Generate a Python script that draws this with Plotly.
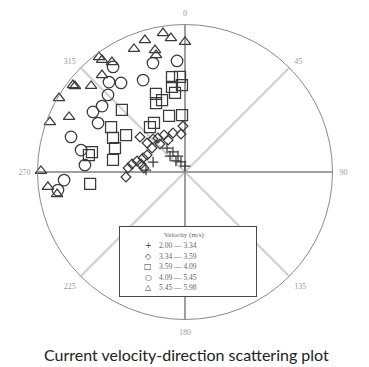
import plotly.graph_objects as go

# Current direction (degrees, clockwise from north) and speed for each speed class
dir_g1 = [323.1, 329.0, 336.4, 316.8, 338.2, 0.0, 320.7, 287.4, 272.9]
spd_g1 = [1.22, 0.95, 0.71, 0.89, 0.44, 0.24, 0.58, 1.36, 1.59]

dir_g2 = [357.5, 354.0, 342.9, 330.4, 321.5, 315.9, 307.9, 307.4, 318.2, 306.0,
          294.1, 288.4, 282.9, 278.6, 274.0, 265.2, 280.3, 275.6, 332.0]
spd_g2 = [1.87, 1.55, 1.66, 1.73, 1.77, 1.87, 2.32, 1.94, 1.53, 1.66,
          1.69, 1.80, 2.00, 2.18, 2.32, 2.41, 1.82, 1.68, 1.47]

dir_g3 = [352.2, 357.0, 358.0, 351.3, 352.8, 339.6, 337.2, 342.3, 314.5, 357.0,
          344.1, 327.7, 322.1, 301.3, 302.1, 295.3, 288.9, 279.5, 282.1, 280.0, 262.8]
spd_g3 = [3.90, 3.87, 3.54, 3.50, 3.24, 3.39, 3.04, 3.07, 3.60, 2.32,
          2.37, 2.36, 2.32, 3.52, 2.83, 3.24, 3.01, 2.97, 3.87, 3.97, 3.89]

dir_g4 = [355.9, 343.6, 325.6, 335.5, 324.3, 319.8, 315.0, 308.5, 303.1, 299.4,
          287.1, 281.9, 274.0, 266.2, 261.9]
spd_g4 = [4.53, 4.62, 5.18, 4.11, 4.46, 4.79, 4.43, 4.31, 4.47, 4.06,
          4.85, 4.32, 4.08, 4.93, 5.22]

dir_g5 = [351.0, 354.0, 343.1, 337.5, 346.2, 346.1, 0.0, 323.2, 323.5, 326.4,
          319.4, 307.8, 312.5, 300.4, 295.4, 290.3, 270.4, 263.8, 260.2, 308.0]
spd_g5 = [5.72, 5.48, 5.61, 5.42, 5.11, 4.90, 5.29, 5.84, 5.67, 5.37,
          5.19, 5.77, 5.18, 5.94, 5.22, 5.86, 5.86, 5.61, 5.28, 5.68]

class_labels = ["2.00 — 3.34", "3.34 — 3.59", "3.59 — 4.09", "4.09 — 5.45", "5.45 — 5.98"]
legend_title = "Velocity (m/s)"
angle_ticks = [0, 45, 90, 135, 180, 225, 270, 315]
r_max = 6.0

W, H = 369, 367
INK = "#3a3a3a"

groups = [
    (dir_g1, spd_g1, "cross-thin-open", 7.5, "+"),
    (dir_g2, spd_g2, "diamond-open", 7.5, "◇"),
    (dir_g3, spd_g3, "square-open", 11, "□"),
    (dir_g4, spd_g4, "circle-open", 11.5, "○"),
    (dir_g5, spd_g5, "triangle-up-open", 10, "△"),
]

fig = go.Figure()

# Solid north-south and east-west axes through the centre
for a, b in [(0, 180), (90, 270)]:
    fig.add_trace(go.Scatterpolar(
        r=[r_max, 0, r_max], theta=[a, a, b], mode="lines",
        line=dict(color="#6f6f6f", width=1), hoverinfo="skip", showlegend=False))

for (d, s, sym, size, _), lab in zip(groups, class_labels):
    fig.add_trace(go.Scatterpolar(
        r=s, theta=d, mode="markers", name=lab, showlegend=False,
        marker=dict(symbol=sym, size=size, color=INK, line=dict(color=INK, width=1.25))))

fig.update_layout(
    width=W, height=H,
    margin=dict(l=0, r=0, t=0, b=0),
    paper_bgcolor="white",
    polar=dict(
        domain=dict(x=[37.5 / W, 332.5 / W], y=[1 - 319.5 / H, 1 - 24.5 / H]),
        bgcolor="white",
        angularaxis=dict(
            rotation=90, direction="clockwise",
            tickmode="array", tickvals=angle_ticks, ticktext=[str(t) for t in angle_ticks],
            ticks="outside", ticklen=5, tickcolor="rgba(0,0,0,0)",
            showline=True, linecolor="#8a8a8a", linewidth=1,
            gridcolor="#cfcfcf", gridwidth=1.5,
            tickfont=dict(family="Liberation Serif", size=8, color="#9a9a9a"),
        ),
        radialaxis=dict(
            range=[0, r_max], showgrid=False, showline=False,
            showticklabels=False, ticks="",
        ),
    ),
)

# Legend box drawn as annotations so the rows sit tightly together
box_l, box_t, box_r, box_b = 119, 226, 257, 297
annotations = [dict(
    xref="paper", yref="paper", x=box_l / W, y=1 - box_t / H,
    xanchor="left", yanchor="top", showarrow=False, text=" ",
    width=box_r - box_l - 2, height=box_b - box_t - 2, borderpad=0,
    bgcolor="white", bordercolor="#4a4a4a", borderwidth=1)]
annotations.append(dict(
    xref="paper", yref="paper", x=184 / W, y=1 - 235 / H,
    xanchor="center", yanchor="middle", showarrow=False, text=legend_title,
    font=dict(family="Liberation Serif", size=7, color="#666")))
for i, ((_, _, _, _, glyph), lab) in enumerate(zip(groups, class_labels)):
    yc = 245.5 + i * 10.6
    annotations.append(dict(
        xref="paper", yref="paper", x=148 / W, y=1 - yc / H,
        xanchor="center", yanchor="middle", showarrow=False, text=glyph,
        font=dict(family="DejaVu Sans", size=8, color=INK)))
    annotations.append(dict(
        xref="paper", yref="paper", x=157 / W, y=1 - yc / H,
        xanchor="left", yanchor="middle", showarrow=False, text=lab,
        font=dict(family="Liberation Serif", size=7.5, color="#666")))

annotations.append(dict(
    xref="paper", yref="paper", x=186 / W, y=1 - 354 / H,
    xanchor="center", yanchor="middle", showarrow=False,
    text="Current velocity-direction scattering plot",
    font=dict(family="Lato", size=16, color="#222")))

fig.update_layout(annotations=annotations)
fig.write_html("out.html")
